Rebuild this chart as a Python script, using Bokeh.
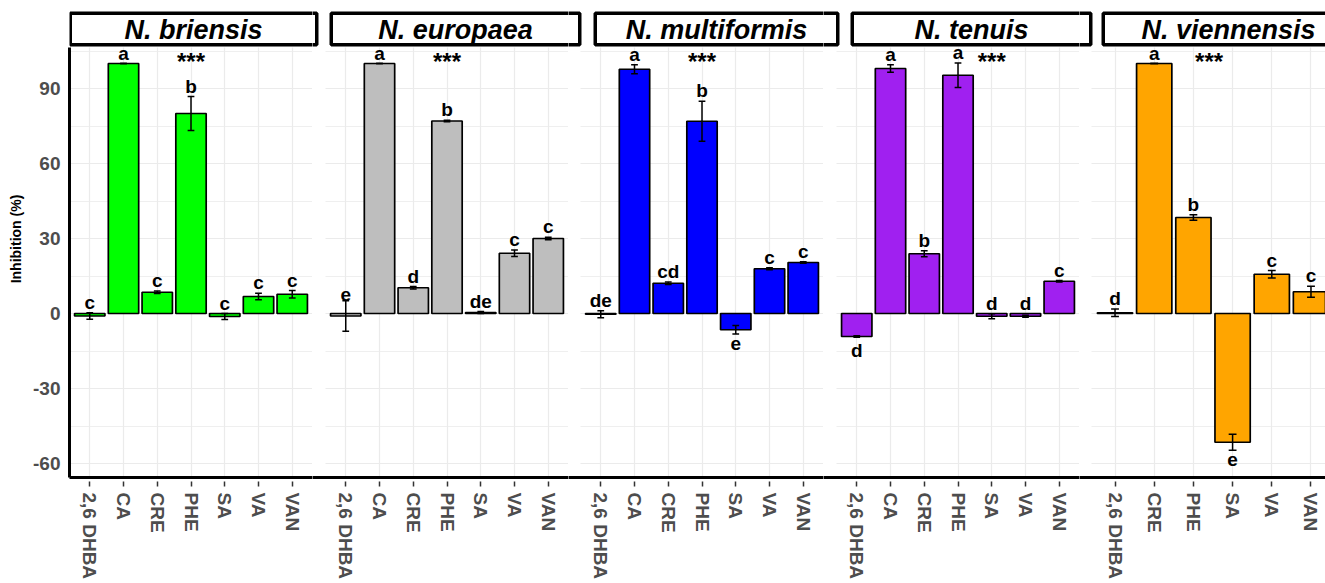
from bokeh.plotting import figure
from bokeh.models import ColumnDataSource, Range1d, FixedTicker, Whisker, TeeHead
from bokeh.layouts import row
from bokeh.embed import file_html
from bokeh.resources import INLINE
from bokeh.core.properties import value

# ---------------- data ----------------
species = ["N. briensis", "N. europaea", "N. multiformis", "N. tenuis", "N. viennensis"]
compounds = ["2,6 DHBA", "CA", "CRE", "PHE", "SA", "VA", "VAN"]
compounds_viennensis = ["2,6 DHBA", "CRE", "PHE", "SA", "VA", "VAN"]

briensis_mean = [-1.0, 100.0, 8.5, 80.0, -1.2, 6.8, 7.7]
briensis_se = [1.3, 0.0, 0.5, 6.8, 1.2, 1.3, 1.5]
briensis_letters = ["c", "a", "c", "b", "c", "c", "c"]

europaea_mean = [-1.0, 100.0, 10.3, 77.0, 0.4, 24.1, 30.0]
europaea_se = [6.1, 0.0, 0.5, 0.3, 0.4, 1.3, 0.5]
europaea_letters = ["e", "a", "d", "b", "de", "c", "c"]

multiformis_mean = [-0.3, 97.7, 12.1, 76.9, -6.5, 17.9, 20.4]
multiformis_se = [1.4, 1.8, 0.5, 8.0, 1.7, 0.4, 0.3]
multiformis_letters = ["de", "a", "cd", "b", "e", "c", "c"]

tenuis_mean = [-9.2, 98.0, 23.9, 95.3, -1.1, -1.1, 12.9]
tenuis_se = [0.3, 1.5, 1.2, 4.9, 1.0, 0.4, 0.3]
tenuis_letters = ["d", "a", "b", "a", "d", "d", "c"]

viennensis_mean = [0.3, 100.0, 38.4, -51.5, 15.7, 8.7]
viennensis_se = [1.5, 0.0, 1.1, 3.2, 1.5, 2.2]
viennensis_letters = ["d", "a", "b", "e", "c", "c"]

star_label = "***"
star_position = [4, 4, 4, 5, 3.4]   # category slot of the *** in each panel
star_height = 101

fill_colors = ["#00FF00", "#BEBEBE", "#0000FF", "#A020F0", "#FFA500"]
y_ticks = [-60, -30, 0, 30, 60, 90]
y_minor_ticks = [-45, -15, 15, 45, 75, 105]
y_title = "Inhibition (%)"

# ---------------- layout constants (page pixels) ----------------
FONT = "Liberation Sans"
PAGE_RIGHT = 1325
PANEL_LEFT = [69, 325, 580, 836, 1091]
PANEL_W = 243
PANEL_TOP_PX = 47
FRAME_BOTTOM_PX = 477
BOTTOM_BORDER = 103
STRIP_SPANS = [(68, 318), (329, 581), (593, 839), (850, 1092), (1101, 1355)]
STRIP_TOP, STRIP_BOTTOM = 11, 46
STRIP_LW = 3.5
Y_PANEL = (-65.6, 106.4)
NEG_LABEL_THRESHOLD = -3
NEG_LABEL_GAP_PX = 3
GRID_COLOR = "#EBEBEB"
TICK_LABEL_COLOR = "#4D4D4D"

ppy = (FRAME_BOTTOM_PX - PANEL_TOP_PX) / (Y_PANEL[1] - Y_PANEL[0])
y_top = Y_PANEL[1] + PANEL_TOP_PX / ppy


def ypx(py):
    return y_top - py / ppy


panels = [
    (compounds, briensis_mean, briensis_se, briensis_letters),
    (compounds, europaea_mean, europaea_se, europaea_letters),
    (compounds, multiformis_mean, multiformis_se, multiformis_letters),
    (compounds, tenuis_mean, tenuis_se, tenuis_letters),
    (compounds_viennensis, viennensis_mean, viennensis_se, viennensis_letters),
]

figs = []
last = len(panels) - 1
for k, (cats, mean, se, letters) in enumerate(panels):
    n = len(cats)
    ppu = PANEL_W / (n + 0.2)
    if k == 0:
        frame_left = PANEL_LEFT[0]
        border_left = PANEL_LEFT[0]
    else:
        frame_left = PANEL_LEFT[k - 1] + PANEL_W
        border_left = 0
    frame_right = PANEL_LEFT[k] + PANEL_W if k < last else PAGE_RIGHT

    def xpx(px, k=k, ppu=ppu):
        return 0.4 + (px - PANEL_LEFT[k]) / ppu

    p = figure(title=None, frame_width=frame_right - frame_left, frame_height=FRAME_BOTTOM_PX,
               x_range=Range1d(xpx(frame_left), xpx(frame_right)),
               y_range=Range1d(Y_PANEL[0], y_top),
               min_border_left=border_left, min_border_right=0, min_border_top=0,
               min_border_bottom=BOTTOM_BORDER, toolbar_location=None,
               output_backend="svg", outline_line_color=None,
               background_fill_color="white", border_fill_color="white")

    xs = list(range(1, n + 1))
    upper = [m + s for m, s in zip(mean, se)]
    lower = [m - s for m, s in zip(mean, se)]
    src = ColumnDataSource(dict(x=xs, mean=mean, upper=upper, lower=lower))

    p.vbar(x="x", top="mean", bottom=0, width=0.9, source=src,
           fill_color=fill_colors[k], line_color="black", line_width=1.7)

    cap = 0.2 * ppu
    wh = Whisker(base="x", upper="upper", lower="lower", source=src,
                 line_color="black", line_width=1.5, level="annotation",
                 upper_head=TeeHead(size=cap, line_color="black", line_width=1.5),
                 lower_head=TeeHead(size=cap, line_color="black", line_width=1.5))
    p.add_layout(wh)

    ab = dict(x=[], y=[], text=[])
    be = dict(x=[], y=[], text=[])
    for x, m, s, t in zip(xs, mean, se, letters):
        if m < NEG_LABEL_THRESHOLD:
            be["x"].append(x); be["y"].append(m - s - NEG_LABEL_GAP_PX / ppy); be["text"].append(t)
        else:
            ab["x"].append(x); ab["y"].append(max(m + s, 0)); ab["text"].append(t)
    common = dict(text_align="center", text_font=value(FONT), text_font_size="19px",
                  text_font_style="bold", text_color="black")
    p.text(x="x", y="y", text="text", source=ColumnDataSource(ab),
           text_baseline="bottom", **common)
    p.text(x="x", y="y", text="text", source=ColumnDataSource(be),
           text_baseline="top", **common)

    p.text(x=[star_position[k]], y=[star_height], text=[star_label],
           text_align="center", text_baseline="alphabetic", text_font=value(FONT),
           text_font_size="24px", text_font_style="bold", text_color="black")

    # strips (facet headers) drawn across the frames they overlap
    h = STRIP_LW / 2
    for (a, b), name in zip(STRIP_SPANS, species):
        if b > frame_left and a < frame_right:
            p.quad(left=[xpx(a + h)], right=[xpx(b - h)],
                   top=[ypx(STRIP_TOP + h)], bottom=[ypx(STRIP_BOTTOM - h)],
                   fill_color="white", line_color="black", line_width=STRIP_LW)
        c = (a + b) / 2
        if frame_left <= c < frame_right:
            p.text(x=[xpx(c)], y=[ypx((STRIP_TOP + STRIP_BOTTOM) / 2 + 1)], text=[name],
                   text_align="center", text_baseline="middle", text_font=value(FONT),
                   text_font_size="27px", text_font_style="bold italic", text_color="black")

    # axes
    xt = FixedTicker(ticks=xs)
    p.xaxis.ticker = xt
    p.xgrid.ticker = xt
    p.xaxis.major_label_overrides = {x: c for x, c in zip(xs, cats)}
    p.xaxis.major_label_orientation = "vertical"
    p.xaxis.major_label_text_font = FONT
    p.xaxis.major_label_text_font_size = "19px"
    p.xaxis.major_label_text_font_style = "bold"
    p.xaxis.major_label_text_color = TICK_LABEL_COLOR
    p.xaxis.major_label_standoff = 6
    p.xaxis.axis_line_color = "black"
    p.xaxis.axis_line_width = 3
    p.xaxis.major_tick_line_color = "#333333"
    p.xaxis.major_tick_line_width = 1.5
    p.xaxis.major_tick_in = -4
    p.xaxis.major_tick_out = 9
    p.xaxis.minor_tick_line_color = None

    yt = FixedTicker(ticks=y_ticks, minor_ticks=y_minor_ticks)
    p.yaxis.ticker = yt
    p.ygrid.ticker = yt
    p.ygrid.cross_bounds = (0.4, n + 0.6)
    p.xgrid.cross_bounds = Y_PANEL
    p.xgrid.grid_line_color = GRID_COLOR
    p.xgrid.grid_line_width = 1.2
    p.ygrid.grid_line_color = GRID_COLOR
    p.ygrid.grid_line_width = 1.2
    p.ygrid.minor_grid_line_color = GRID_COLOR
    p.ygrid.minor_grid_line_width = 0.8

    if k == 0:
        p.yaxis.bounds = Y_PANEL
        p.yaxis.major_label_overrides = {t: str(t) for t in y_ticks}
        p.yaxis.axis_label = y_title
        p.yaxis.axis_label_text_font = FONT
        p.yaxis.axis_label_text_font_size = "14px"
        p.yaxis.axis_label_text_font_style = "bold"
        p.yaxis.axis_label_text_color = "black"
        p.yaxis.axis_label_standoff = 6
        p.yaxis.major_label_text_font = FONT
        p.yaxis.major_label_text_font_size = "19px"
        p.yaxis.major_label_text_font_style = "bold"
        p.yaxis.major_label_text_color = TICK_LABEL_COLOR
        p.yaxis.major_label_standoff = 9
        p.yaxis.axis_line_color = "black"
        p.yaxis.axis_line_width = 3
        p.yaxis.major_tick_line_color = None
        p.yaxis.major_tick_in = 0
        p.yaxis.major_tick_out = 0
        p.yaxis.minor_tick_line_color = None
        p.yaxis.minor_tick_out = 0
    else:
        p.yaxis.visible = False
    figs.append(p)

layout = row(*figs, spacing=0)
open("out.html", "w").write(file_html(layout, INLINE))
